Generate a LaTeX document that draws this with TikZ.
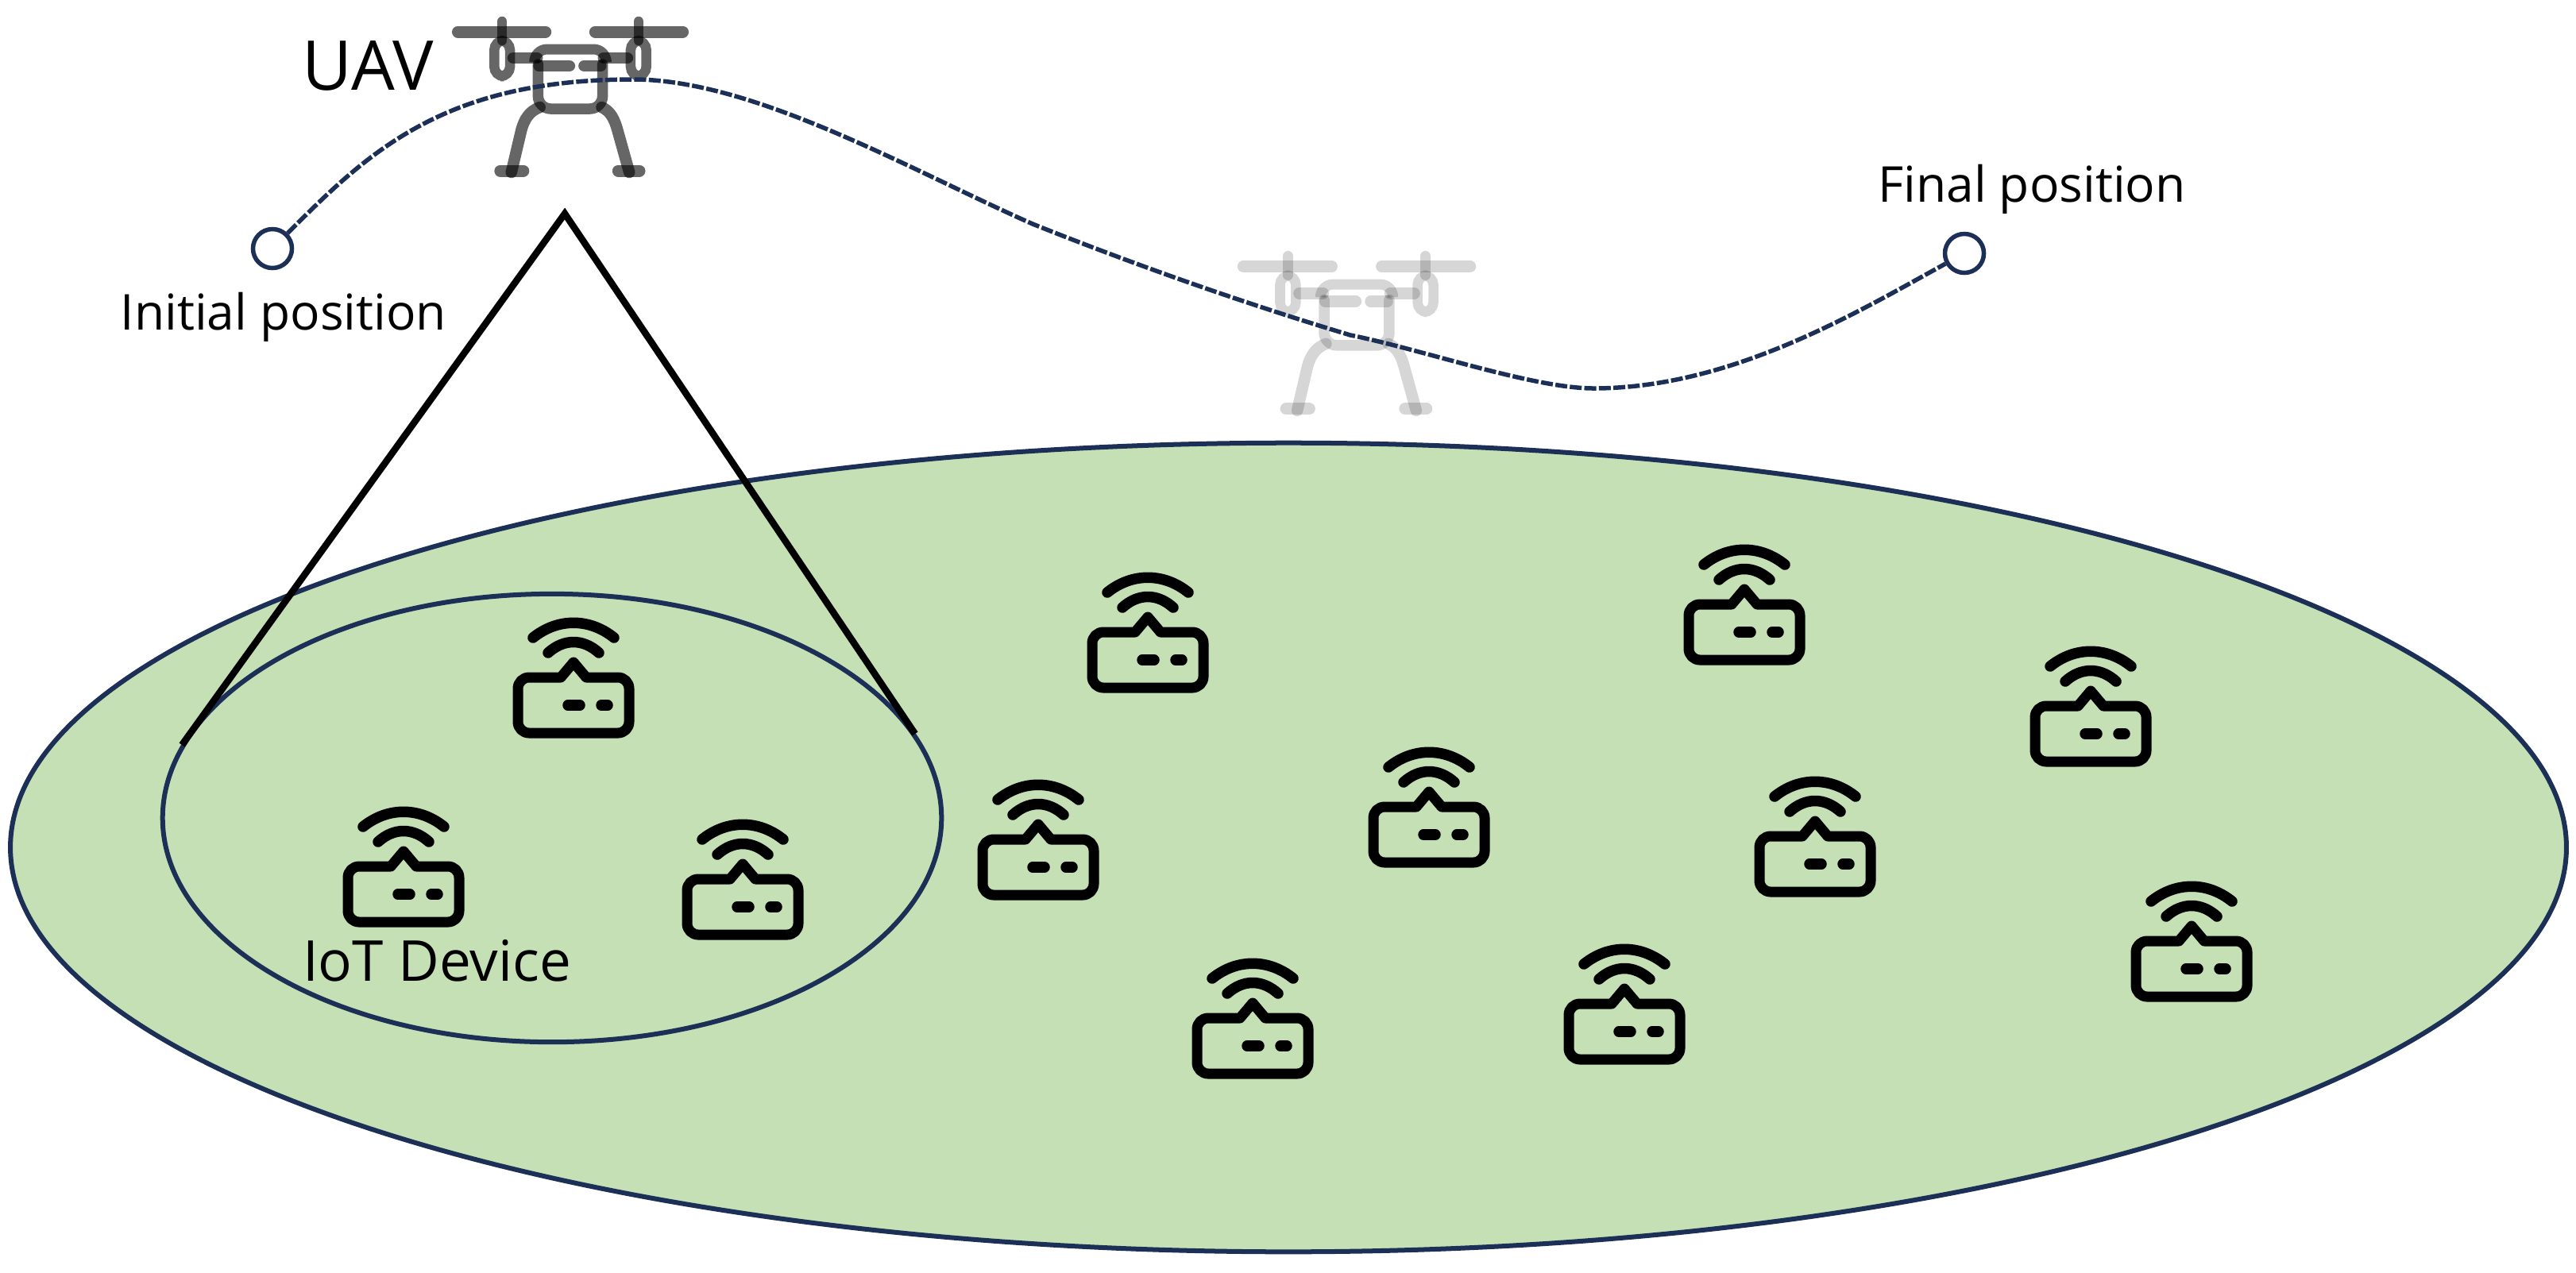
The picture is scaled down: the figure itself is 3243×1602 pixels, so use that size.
\documentclass[tikz,border=0pt]{standalone}
\usepackage{fontspec}
\setmainfont{Open Sans}
\usetikzlibrary{shapes.geometric,positioning}
\definecolor{areagreen}{HTML}{C5E0B4}
\definecolor{navyline}{HTML}{1B2F57}
\tikzset{
    drone/.pic={
        % blades and shafts
        \draw[line width=0.15cm, line cap=round] (-122,19) -- (-27,19);
        \draw[line width=0.15cm, line cap=round] (27,19) -- (122,19);
        \draw[line width=0.125cm, line cap=round] (-74,6) -- (-74,30);
        \draw[line width=0.125cm, line cap=round] (74,6) -- (74,30);
        % motors
        \draw[line width=0.125cm, rounded corners=0.12cm] (-82.5,30) rectangle (-65.5,75);
        \draw[line width=0.125cm, rounded corners=0.12cm] (82.5,30) rectangle (65.5,75);
        % arms
        \draw[line width=0.145cm, line cap=round] (-62,52) -- (-36,52);
        \draw[line width=0.145cm, line cap=round] (62,52) -- (36,52);
        % body
        \draw[line width=0.13cm, line cap=round, rounded corners=0.16cm] (-39,55) -- (-39,41) -- (39,41) -- (39,55);
        \draw[line width=0.145cm, line cap=round] (-34,62) -- (-1,62);
        \draw[line width=0.145cm, line cap=round] (15,62) -- (33,62);
        \draw[line width=0.135cm, line cap=round, rounded corners=0.16cm] (-35,60) -- (-35,116) -- (35,116) -- (35,60);
        % legs and feet
        \draw[line width=0.145cm, line cap=round] (-33,114) .. controls (-45,119) and (-50,130) .. (-53,142) -- (-64,196);
        \draw[line width=0.145cm, line cap=round] (34,114) .. controls (44,119) and (48,130) .. (51,142) -- (64,196);
        \draw[line width=0.15cm, line cap=round] (-76,194) -- (-51,194);
        \draw[line width=0.15cm, line cap=round] (52,194) -- (75,194);
    },
    device/.pic={
        \draw[line width=0.13cm, line join=round, rounded corners=0.14cm] (16,-35) -- (70,-35) -- (70,35) -- (-70,35) -- (-70,-35) [sharp corners] -- (-16,-35) -- (0,-54) -- cycle;
        \draw[line width=0.135cm, line cap=round] (-7,0) -- (8,0);
        \draw[line width=0.135cm, line cap=round] (35,0) -- (43,0);
        \draw[line width=0.135cm, line cap=round] (-51,-85) .. controls (-20,-110) and (20,-110) .. (51,-85);
        \draw[line width=0.135cm, line cap=round] (-32,-66) .. controls (-12,-84) and (12,-84) .. (32,-66);
    },
    waypoint/.style={circle, draw=navyline, fill=white, line width=0.055cm, minimum size=0.49cm, inner sep=0pt},
    region/.style={ellipse, draw=navyline, line width=0.06cm, inner sep=0pt},
    label/.style={inner sep=0pt, font=\fontsize{17.7}{22}\selectfont},
    beam/.style={line width=0.085cm, black},
    trajectory/.style={line width=0.055cm, navyline, dash pattern=on 0.15cm off 0.033cm}
}
\begin{document}
\begin{tikzpicture}[x=0.01cm, y=-0.01cm]
    \useasboundingbox (0,0) rectangle (3243,1602);
    % Coverage area
    \node[region, fill=areagreen, minimum width=32.16cm, minimum height=10.18cm] (area) at (1622,1067) {};
    \node[region, minimum width=9.8cm, minimum height=5.64cm] (cover) at (695,1030) {};
    % IoT devices
    \foreach \i/\px/\py in {1/722/888, 2/508/1126, 3/935/1142, 4/1445/831, 5/1307/1092, 6/1577/1317, 7/1799/1051, 8/2045/1299, 9/2285/1088, 10/2196/796, 11/2632/924, 12/2759/1220}
        \pic (dev\i) at (\px,\py) {device};
    % UAV and its second position
    \pic[opacity=0.6, xscale=1.16] (uav) at (718,21) {drone};
    \pic[opacity=0.16, xscale=1.17, yscale=1.025] (ghost) at (1708,316) {drone};
    % Trajectory
    \node[waypoint] (start) at (343,313) {};
    \node[waypoint] (final) at (2473,319) {};
    \draw[trajectory] (start) .. controls (465,190) and (560,100) .. (797,100)
        .. controls (950,100) and (1150,216) .. (1300,282)
        .. controls (1420,330) and (1560,380) .. (1700,422)
        .. controls (1790,440) and (1930,489) .. (2006,489)
        .. controls (2180,489) and (2340,392) .. (final);
    % Coverage beam
    \coordinate (apex) at (711,269);
    \coordinate (beamleft) at (229,938);
    \coordinate (beamright) at (1152,924);
    \draw[beam] (beamleft) -- (apex) -- (beamright);
    % Labels
    \node[label, font=\fontsize{24.6}{30}\selectfont] (uavlabel) at (463,83) {UAV};
    \node[label] (initlabel) at (357,399) {Initial position};
    \node[label] (finallabel) at (2558,238) {Final position};
    \node[label, font=\fontsize{20.2}{24}\selectfont] (devlabel) at (550,1210) {IoT Device};
\end{tikzpicture}
\end{document}
